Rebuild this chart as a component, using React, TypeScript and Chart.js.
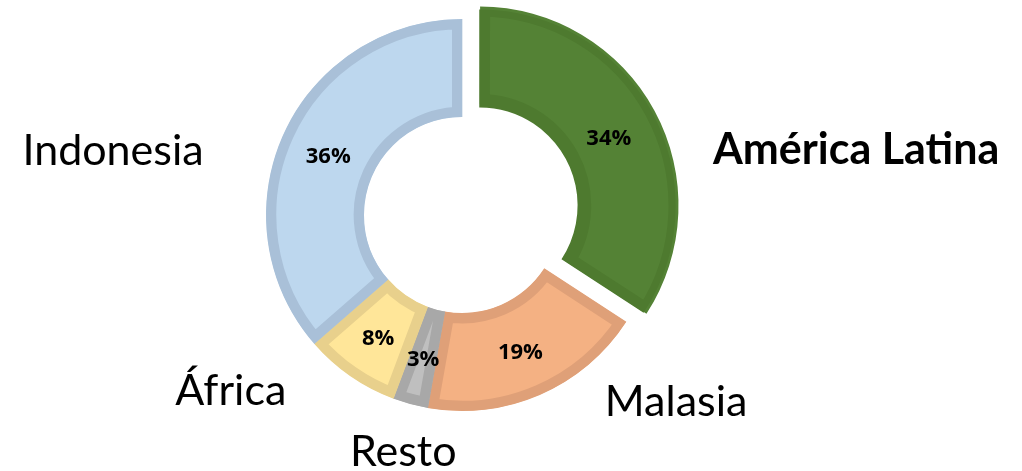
import React, { useEffect, useRef } from "react";
import { Chart, registerables } from "chart.js";

Chart.register(...registerables);

const categories = ["América Latina", "Malasia", "Resto", "África", "Indonesia"];
const shares = [34.2, 18.6, 2.9, 7.9, 36.4];
const fillColors = ["#548235", "#F4B183", "#BFBFBF", "#FFE699", "#BDD7EE"];
const borderColors = ["#4E7A2F", "#DFA078", "#A8A8A8", "#E8D08C", "#A9C0D8"];
const explode = [80, 0, 0, 0, 0];
const boldLabel = [true, false, false, false, false];

// text placement of the category names, relative to each slice's outer mid point
const LABEL_LAYOUT = [
  { dx: 61, dy: 52, align: "left" },
  { dx: 65, dy: 21, align: "left" },
  { dx: -7, dy: 62, align: "center" },
  { dx: -64, dy: 29, align: "right" },
  { dx: -80, dy: 31.5, align: "right" },
];

const labelPlugin = {
  id: "sliceLabels",
  afterDatasetsDraw(chart: any) {
    const ctx = chart.ctx;
    const meta = chart.getDatasetMeta(0);
    ctx.save();
    meta.data.forEach((arc: any, i: number) => {
      const p = arc.getProps(["x", "y", "startAngle", "endAngle", "innerRadius", "outerRadius"], true);
      const off = (arc.options.offset || 0) / 4;
      const mid = (p.startAngle + p.endAngle) / 2;
      const cx = p.x + Math.cos(mid) * off;
      const cy = p.y + Math.sin(mid) * off;
      const rMid = (p.innerRadius + p.outerRadius) / 2;
      ctx.fillStyle = "#000";
      ctx.font = "bold 22px 'Open Sans'";
      ctx.textAlign = "center";
      ctx.textBaseline = "middle";
      ctx.fillText(Math.round(shares[i]) + "%", cx + Math.cos(mid) * rMid, cy + Math.sin(mid) * rMid + 3);

      const ox = cx + Math.cos(mid) * p.outerRadius;
      const oy = cy + Math.sin(mid) * p.outerRadius;
      const lay = LABEL_LAYOUT[i];
      ctx.font = (boldLabel[i] ? "bold " : "") + "43px Lato";
      ctx.textAlign = lay.align;
      ctx.textBaseline = "alphabetic";
      ctx.fillText(categories[i], ox + lay.dx, oy + lay.dy);
    });
    ctx.restore();
  },
};

export default function App() {
  const ref = useRef<HTMLCanvasElement | null>(null);
  useEffect(() => {
    if (!ref.current) return;
    const chart = new Chart(ref.current, {
      type: "doughnut",
      data: {
        labels: categories,
        datasets: [
          {
            data: shares,
            backgroundColor: fillColors,
            borderColor: borderColors,
            borderWidth: 10,
            borderAlign: "inner",
            borderJoinStyle: "miter",
            offset: explode,
            hoverOffset: 0,
          },
        ],
      },
      options: {
        responsive: false,
        animation: false,
        radius: 196,
        cutout: "50%",
        layout: { padding: { left: 0, top: 0, right: 98, bottom: 41 } },
        plugins: {
          legend: { display: false },
          tooltip: { enabled: false },
        },
      } as any,
      plugins: [labelPlugin],
    });
    return () => chart.destroy();
  }, []);
  return (
    <div style={{ position: "absolute", left: 0, top: 0, width: 1022, height: 471, background: "#fff" }}>
      <canvas ref={ref} width={1022} height={471} style={{ display: "block" }} />
    </div>
  );
}
